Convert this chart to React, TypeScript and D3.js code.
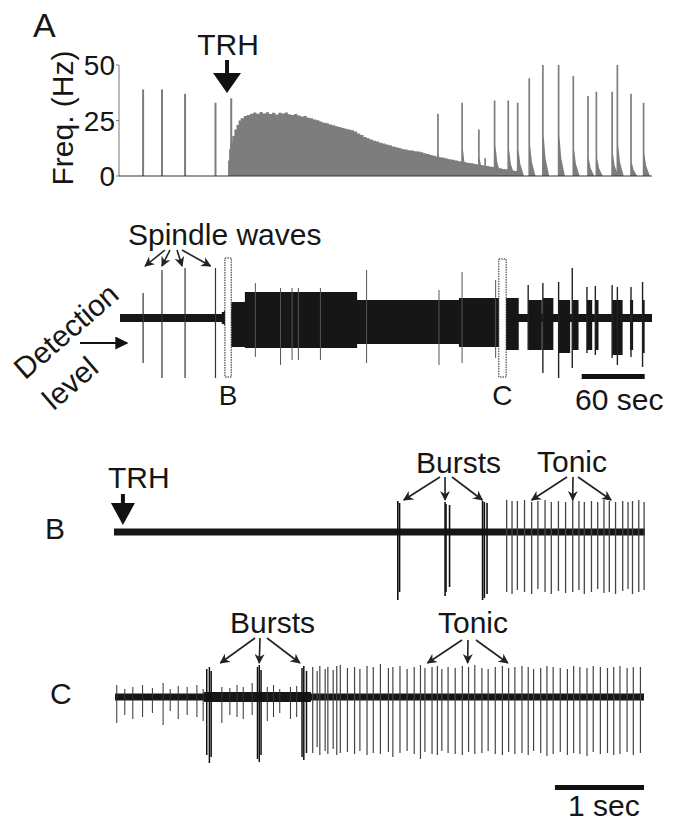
import React from 'react';
import * as d3 from 'd3';

const FONT = 'Liberation Sans, Arial, Helvetica, sans-serif';

// ---------- A : instantaneous firing frequency (time in s, freq in Hz)
const recordLength = 507;
const freqTicks = [0, 25, 50];
const spindleTimes = [22, 40, 62, 91, 106];
const spindleFreq = [39, 39, 37, 33, 35];
const tonicTimes = [103, 104, 105, 107, 109, 111, 113, 115, 118, 121, 124, 127, 130, 133, 136, 139, 142, 145, 148, 151, 154, 157, 160, 163, 166, 169, 172, 175, 178, 181, 184, 187, 190, 193, 196, 199, 202, 205, 208, 211, 214, 217, 220, 223, 226, 229, 232, 235, 238, 241, 244, 247, 250, 253, 256, 259, 262, 265, 268, 271, 274, 277, 280, 283, 286, 289, 292, 295, 298, 301, 304, 307, 310, 313, 316, 319, 322, 325, 328, 331, 334, 337, 340, 343, 346, 349, 352, 355, 358, 361, 364, 367, 370, 373, 376, 379, 381];
const tonicFreq = [7, 12, 15, 18, 21, 23, 25, 26, 27, 27.5, 28, 28.6, 28, 28.8, 28.2, 28.7, 27.9, 28.5, 27.7, 28.5, 28.1, 28.6, 27.8, 27.5, 27.9, 27.2, 26.8, 27, 26.2, 26, 25.4, 25.1, 24.5, 24, 23.8, 23.2, 22.9, 22.4, 22.1, 21.6, 21.3, 21, 20.6, 20.1, 19.2, 18.5, 17.6, 17, 16.4, 15.9, 15.5, 15, 14.6, 14.2, 13.8, 13.3, 12.9, 12.6, 12.2, 11.9, 11.6, 11.5, 11.2, 11, 10.7, 10.3, 9.9, 9.5, 9.1, 8.8, 8.5, 8.2, 7.9, 7.6, 7.3, 7, 6.7, 6.4, 6.2, 5.9, 5.7, 5.4, 5.2, 4.9, 4.7, 4.5, 4.2, 4, 3.8, 3.5, 3.2, 3, 2.8, 2.5, 2.2, 2, 0];
const lateBurstTimes = [303, 326, 342, 348, 357, 370, 379, 390, 403, 418, 432, 446, 454, 469, 474, 487, 499];
const lateBurstFreq = [28, 33, 21, 8, 34, 34, 33, 44, 50, 50, 45, 36, 38, 38, 50, 37, 33];
const lateBurstTail = [10, 12, 8, 4, 14, 12, 12, 14, 18, 18, 12, 8, 8, 10, 14, 6, 10];

// ---------- long extracellular trace (amplitude in arbitrary units)
const envTimes = [0, 97, 99, 102, 106, 119, 226, 323, 362, 379, 380, 507];
const envUp = [4, 6, 7, 8, 16, 26, 18, 20, 20, 20, 4, 4];
const envDown = [4, 6, 7, 8, 29, 30, 26, 29, 32, 32, 4, 4];
const spindleUp = [25, 48, 50, 50];
const spindleDown = [45, 60, 60, 60];
const tonicSpikeTimes = [129, 153, 164, 170, 191, 235, 304, 326, 358];
const tonicSpikeUp = [35, 30, 30, 30, 30, 48, 28, 46, 38];
const tonicSpikeDown = [39, 47, 42, 42, 42, 45, 47, 45, 40];
const blockStart = [389, 403, 418, 431, 445, 453, 469, 486, 498];
const blockEnd = [402, 413, 429, 437, 450, 456, 479, 489, 500];
const blockUp = [18, 20, 18, 18, 18, 18, 18, 18, 18];
const blockDown = [32, 32, 35, 32, 32, 32, 37, 32, 35];
const leadTimes = [389, 403, 418, 431, 445, 453, 469, 474, 487, 498];
const leadUp = [33, 35, 36, 50, 31, 32, 33, 31, 31, 36];
const leadDown = [32, 55, 60, 50, 35, 37, 40, 47, 39, 49];

// ---------- B : onset of TRH effect (s)
const bBurstTimes = [3.18, 3.2, 3.71, 3.72, 3.76, 4.13, 4.15, 4.18];
const bBurstUp = [31, 29, 30, 28, 27, 31, 30, 29];
const bBurstDown = [68, 60, 64, 60, 55, 68, 66, 62];
const bTonicTimes = [4.4, 4.46, 4.52, 4.6, 4.68, 4.75, 4.83, 4.9, 4.98, 5.06, 5.14, 5.21, 5.27, 5.35, 5.42, 5.49, 5.55, 5.62, 5.7, 5.76, 5.81, 5.88, 5.94];
const bTonicUp = [32, 31, 31, 32, 30, 31, 32, 30, 31, 30, 32, 31, 30, 31, 30, 32, 31, 30, 31, 30, 31, 32, 30];
const bTonicDown = [60, 62, 58, 60, 62, 57, 60, 62, 59, 61, 60, 58, 62, 60, 57, 61, 60, 62, 59, 57, 62, 60, 58];

// ---------- C : transition to tonic firing (s)
const cNoiseTimes = [0.02, 0.11, 0.2, 0.31, 0.42, 0.54, 0.62, 0.71, 0.81, 0.92, 0.99, 1.2, 1.29, 1.37, 1.44, 1.54, 1.71, 1.78, 1.85, 1.97, 2.04];
const cNoiseUp = [12, 8, 10, 12, 9, 14, 8, 11, 10, 12, 8, 10, 9, 12, 10, 14, 10, 12, 8, 10, 11];
const cNoiseDown = [26, 18, 22, 20, 16, 28, 14, 22, 18, 20, 24, 26, 18, 20, 22, 18, 24, 20, 16, 22, 20];
const cBurstTimes = [1.03, 1.06, 1.08, 1.6, 1.62, 1.64, 2.1, 2.12, 2.15];
const cBurstUp = [28, 30, 26, 30, 32, 27, 29, 31, 26];
const cBurstDown = [58, 66, 60, 62, 65, 58, 60, 63, 56];
const cTonicTimes = [2.22, 2.27, 2.3, 2.36, 2.39, 2.45, 2.49, 2.53, 2.61, 2.69, 2.75, 2.83, 2.9, 2.98, 3.07, 3.12, 3.2, 3.28, 3.36, 3.43, 3.48, 3.56, 3.62, 3.67, 3.74, 3.82, 3.9, 3.97, 4.04, 4.12, 4.19, 4.27, 4.35, 4.42, 4.49, 4.57, 4.64, 4.7, 4.78, 4.85, 4.92, 5.0, 5.08, 5.15, 5.22, 5.3, 5.37, 5.45, 5.53, 5.6, 5.67, 5.75, 5.82, 5.9];
const cTonicUp = [30, 26, 31, 28, 30, 27, 31, 32, 29, 30, 28, 31, 30, 33, 29, 30, 31, 28, 30, 32, 29, 30, 31, 28, 30, 29, 31, 30, 32, 29, 28, 30, 31, 29, 30, 31, 30, 28, 29, 31, 30, 29, 28, 31, 30, 29, 31, 30, 29, 30, 31, 29, 30, 30];
const cTonicDown = [56, 50, 58, 54, 57, 52, 58, 56, 55, 57, 54, 58, 56, 57, 55, 60, 56, 54, 57, 62, 55, 57, 58, 54, 56, 57, 58, 55, 57, 56, 54, 57, 58, 55, 57, 56, 58, 54, 56, 59, 57, 55, 58, 56, 57, 59, 55, 57, 56, 58, 57, 55, 58, 56];

const ink = '#161616';

const Spike = ({ x, y0, y1, w = 1, c = ink }: any) => (
  <line x1={x} x2={x} y1={y0} y2={y1} stroke={c} strokeWidth={w} />
);

export default function App() {
  // shared time axis for A and the long trace
  const xT = d3.scaleLinear().domain([0, recordLength]).range([120, 652]);
  const yF = d3.scaleLinear().domain([0, 50]).range([176, 65]);
  const yM = d3.scaleLinear().domain([-70, 70]).range([388, 248]);
  const xB = d3.scaleLinear().domain([0, 5.95]).range([114, 645]);
  const yB = d3.scaleLinear().domain([-70, 70]).range([602, 462]);
  const xC = d3.scaleLinear().domain([0, 5.94]).range([115, 644]);
  const yC = d3.scaleLinear().domain([-70, 70]).range([767, 627]);

  const tonicArea = d3
    .area<number>()
    .x((_, i) => xT(tonicTimes[i]))
    .y0(yF(0))
    .y1((d) => yF(d))
    .curve(d3.curveStepAfter);

  const envArea = d3
    .area<number>()
    .x((_, i) => xT(envTimes[i]))
    .y0((_, i) => yM(-envDown[i]))
    .y1((d) => yM(d))
    .curve(d3.curveStepAfter);

  const band = (x: any, y: any, t0: number, t1: number, a: number) =>
    `M${x(t0)},${y(a)}H${x(t1)}V${y(-a)}H${x(t0)}Z`;

  const txt = { fontFamily: FONT, fill: ink } as any;

  return (
    <svg width={681} height={822} style={{ position: 'absolute', left: 0, top: 0 }}>
      <defs>
        <marker id="ah" viewBox="0 0 10 10" refX="9" refY="5" markerWidth="10" markerHeight="10"
          markerUnits="userSpaceOnUse" orient="auto">
          <path d="M0,0 L10,5 L0,10 L3,5 z" fill="#222" />
        </marker>
        <marker id="ahBig" viewBox="0 0 10 10" refX="9" refY="5" markerWidth="13" markerHeight="13"
          markerUnits="userSpaceOnUse" orient="auto">
          <path d="M0,0 L10,5 L0,10 z" fill="#111" />
        </marker>
      </defs>
      <rect width={681} height={822} fill="#fff" />

      {/* ================= Panel A ================= */}
      <text x={33} y={37} fontSize={34} {...txt}>A</text>
      <text transform="translate(73,118) rotate(-90)" textAnchor="middle" fontSize={30} {...txt}>Freq. (Hz)</text>
      {freqTicks.map((t) => (
        <g key={t}>
          <text x={115} y={yF(t) + 10} textAnchor="end" fontSize={28} {...txt}>{t}</text>
          <line x1={116} x2={119} y1={yF(t)} y2={yF(t)} stroke="#777" />
        </g>
      ))}
      <path d={tonicArea(tonicFreq) || ''} fill="#7d7d7d" />
      {lateBurstTimes.map((t, i) => (
        <path key={i} fill="#7d7d7d"
          d={`M${xT(t - 0.8)},${yF(0)}V${yF(lateBurstFreq[i])}H${xT(t + 0.8)}V${yF(lateBurstTail[i])}L${xT(t + 2.5)},${yF(lateBurstTail[i] * 0.45)}L${xT(t + 6)},${yF(0)}Z`} />
      ))}
      {spindleTimes.map((t, i) => (
        <Spike key={i} x={xT(t)} y0={yF(0)} y1={yF(spindleFreq[i])} w={2} c="#7d7d7d" />
      ))}
      <line x1={119} x2={119} y1={yF(50)} y2={yF(0)} stroke="#777" strokeWidth={1} />
      <line x1={119} x2={xT(recordLength)} y1={yF(0)} y2={yF(0)} stroke="#333" strokeWidth={1.2} />
      <text x={228} y={55} textAnchor="middle" fontSize={30} {...txt}>TRH</text>
      <line x1={xT(102)} x2={xT(102)} y1={60} y2={74} stroke="#111" strokeWidth={4} />
      <path d={`M${xT(102) - 14},73 H${xT(102) + 14} L${xT(102)},93 Z`} fill="#111" />

      {/* ================= Long trace ================= */}
      <text x={128} y={245} fontSize={30} {...txt}>Spindle waves</text>
      {spindleTimes.slice(0, 4).map((t, i) => {
        const sx = [165, 170, 177, 182][i];
        const off = [2, 0, -3, -5][i];
        return (
          <line key={i} x1={sx} y1={250} x2={xT(t) + off} y2={266} stroke="#222" strokeWidth={1.6} markerEnd="url(#ah)" />
        );
      })}
      <path d={envArea(envUp) || ''} fill={ink} />
      {blockStart.map((t, i) => (
        <path key={i} d={`M${xT(t)},${yM(blockUp[i])}H${xT(blockEnd[i])}V${yM(-blockDown[i])}H${xT(t)}Z`} fill={ink} />
      ))}
      {spindleTimes.slice(0, 4).map((t, i) => (
        <Spike key={i} x={xT(t)} y0={yM(spindleUp[i])} y1={yM(-spindleDown[i])} w={1.2} c="#333" />
      ))}
      {tonicSpikeTimes.map((t, i) => (
        <Spike key={i} x={xT(t)} y0={yM(tonicSpikeUp[i])} y1={yM(-tonicSpikeDown[i])} w={1} c="#555" />
      ))}
      {leadTimes.map((t, i) => (
        <Spike key={i} x={xT(t)} y0={yM(leadUp[i])} y1={yM(-leadDown[i])} w={1.4} c="#222" />
      ))}
      {/* boxes marking the segments expanded in B and C */}
      <rect x={xT(100)} y={258} width={xT(106) - xT(100)} height={119} fill="#fff" stroke="#222" strokeWidth={1} strokeDasharray="1.5,1" />
      <rect x={xT(361)} y={259} width={xT(368) - xT(361)} height={118} fill="#fff" stroke="#222" strokeWidth={1} strokeDasharray="1.5,1" />
      <text x={xT(103)} y={405} textAnchor="middle" fontSize={28} {...txt}>B</text>
      <text x={xT(364.5)} y={405} textAnchor="middle" fontSize={28} {...txt}>C</text>
      <line x1={80} y1={343} x2={127} y2={343} stroke="#111" strokeWidth={2} markerEnd="url(#ahBig)" />
      <text transform="translate(66,331) rotate(-41)" textAnchor="middle" dominantBaseline="central" fontSize={30} {...txt}>Detection</text>
      <text transform="translate(70,383) rotate(-41)" textAnchor="middle" dominantBaseline="central" fontSize={30} {...txt}>level</text>
      <rect x={xT(440)} y={374} width={xT(500) - xT(440)} height={5} fill="#111" />
      <text x={575} y={410} fontSize={30} {...txt}>60 sec</text>

      {/* ================= Panel B ================= */}
      <text x={45} y={539} fontSize={30} {...txt}>B</text>
      <text x={108} y={488} fontSize={30} {...txt}>TRH</text>
      <line x1={xB(0.1)} x2={xB(0.1)} y1={494} y2={504} stroke="#111" strokeWidth={4} />
      <path d={`M${xB(0.1) - 12},503 H${xB(0.1) + 12} L${xB(0.1)},525 Z`} fill="#111" />
      <path d={band(xB, yB, 0, 5.95, 3.5)} fill={ink} />
      {bTonicTimes.map((t, i) => (
        <Spike key={i} x={xB(t)} y0={yB(bTonicUp[i])} y1={yB(-bTonicDown[i])} w={1.3} c="#444" />
      ))}
      {bBurstTimes.map((t, i) => (
        <Spike key={i} x={xB(t)} y0={yB(bBurstUp[i])} y1={yB(-bBurstDown[i])} w={1.6} c="#111" />
      ))}
      <text x={416} y={473} fontSize={30} {...txt}>Bursts</text>
      <text x={537} y={472} fontSize={30} {...txt}>Tonic</text>
      {[bBurstTimes[0], bBurstTimes[2], bBurstTimes[6]].map((t, i) => (
        <line key={i} x1={[440, 445, 452][i]} y1={477} x2={xB(t) + [6, 0, -2][i]} y2={500} stroke="#222" strokeWidth={1.6} markerEnd="url(#ah)" />
      ))}
      {[4.68, 5.14, 5.57].map((t, i) => (
        <line key={i} x1={[567, 573, 578][i]} y1={477} x2={xB(t)} y2={500} stroke="#222" strokeWidth={1.6} markerEnd="url(#ah)" />
      ))}

      {/* ================= Panel C ================= */}
      <text x={50} y={704} fontSize={30} {...txt}>C</text>
      <path d={band(xC, yC, 0, 5.94, 3.5)} fill={ink} />
      <path d={band(xC, yC, 1.0, 2.2, 5)} fill={ink} />
      {cNoiseTimes.map((t, i) => (
        <Spike key={i} x={xC(t)} y0={yC(cNoiseUp[i])} y1={yC(-cNoiseDown[i])} w={1} c="#333" />
      ))}
      {cTonicTimes.map((t, i) => (
        <Spike key={i} x={xC(t)} y0={yC(cTonicUp[i])} y1={yC(-cTonicDown[i])} w={1.2} c="#444" />
      ))}
      {cBurstTimes.map((t, i) => (
        <Spike key={i} x={xC(t)} y0={yC(cBurstUp[i])} y1={yC(-cBurstDown[i])} w={1.5} c="#111" />
      ))}
      <text x={230} y={633} fontSize={30} {...txt}>Bursts</text>
      <text x={438} y={633} fontSize={30} {...txt}>Tonic</text>
      {[cBurstTimes[1], cBurstTimes[4], cBurstTimes[7]].map((t, i) => (
        <line key={i} x1={[255, 260, 267][i]} y1={638} x2={xC(t) + [11, 0, -4][i]} y2={663} stroke="#222" strokeWidth={1.6} markerEnd="url(#ah)" />
      ))}
      {[3.51, 3.96, 4.41].map((t, i) => (
        <line key={i} x1={[462, 468, 476][i]} y1={640} x2={xC(t)} y2={663} stroke="#222" strokeWidth={1.6} markerEnd="url(#ah)" />
      ))}
      <rect x={xC(4.94)} y={785} width={xC(5.94) - xC(4.94)} height={5} fill="#111" />
      <text x={568} y={816} fontSize={30} {...txt}>1 sec</text>
    </svg>
  );
}
